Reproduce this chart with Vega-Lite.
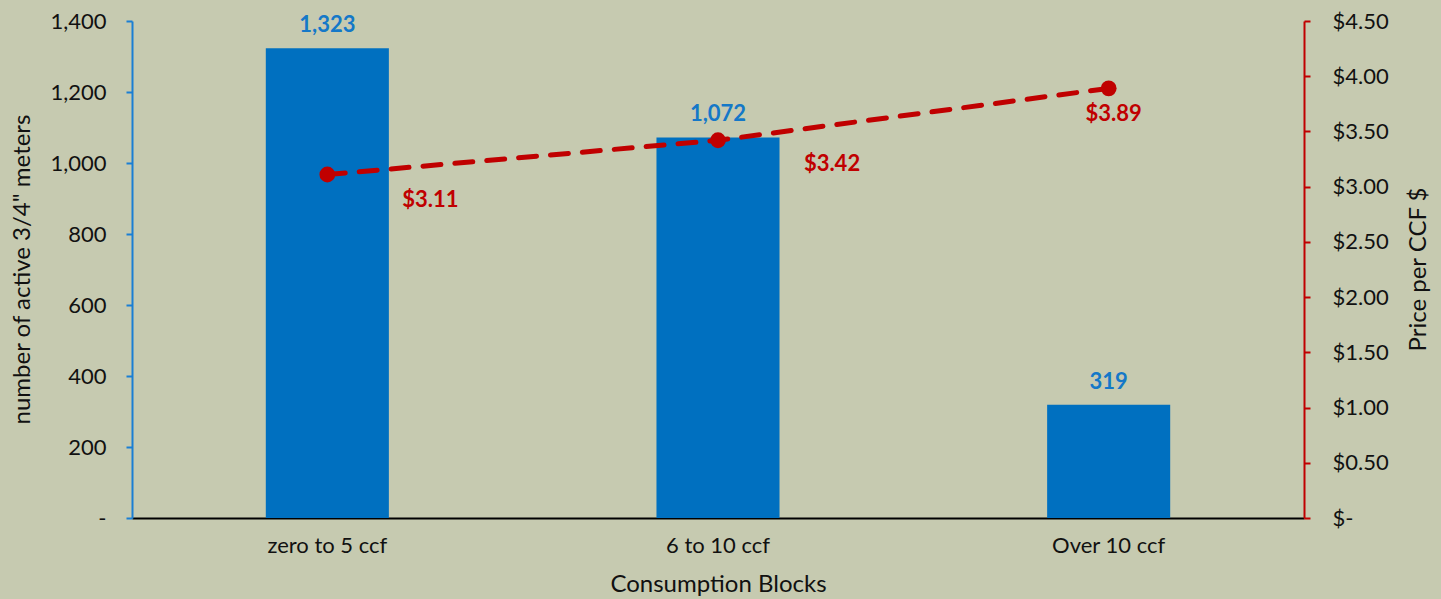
{
  "$schema": "https://vega.github.io/schema/vega-lite/v6.json",
  "width": 1172,
  "height": 497,
  "autosize": {"type": "none"},
  "padding": {"left": 132, "top": 21, "right": 137, "bottom": 81},
  "background": "#C6CAB0",
  "config": {
    "view": {"stroke": null},
    "font": "Lato",
    "axis": {"labelFont": "Lato", "titleFont": "Lato", "labelColor": "#111111", "titleColor": "#111111", "grid": false, "labelFontSize": 22, "titleFontSize": 24, "titleFontWeight": "normal"}
  },
  "data": {
    "values": [
      {"block": "zero to 5 ccf", "meters": 1323, "price": 3.11},
      {"block": "6 to 10 ccf", "meters": 1072, "price": 3.42},
      {"block": "Over 10 ccf", "meters": 319, "price": 3.89}
    ]
  },
  "encoding": {
    "x": {
      "field": "block",
      "type": "nominal",
      "sort": null,
      "scale": {"paddingInner": 0.685, "paddingOuter": 0.3425},
      "axis": {
        "title": "Consumption Blocks",
        "labelAngle": 0,
        "ticks": false,
        "labelPadding": 17,
        "domainColor": "#000000",
        "domainWidth": 2,
        "titlePadding": 16
      }
    }
  },
  "layer": [
    {
      "encoding": {
        "y": {
          "field": "meters",
          "type": "quantitative",
          "scale": {"domain": [0, 1400]},
          "axis": {
            "orient": "left",
            "title": "number of active 3/4\" meters",
            "values": [0, 200, 400, 600, 800, 1000, 1200, 1400],
            "labelExpr": "datum.value == 0 ? '-' : format(datum.value, ',')",
            "domainColor": "#1a7fd4",
            "domainWidth": 2,
            "tickColor": "#1a7fd4",
            "tickWidth": 2,
            "tickSize": 6,
            "labelPadding": 20,
            "titleX": -110,
            "titleY": 248,
            "titleAngle": -90,
            "titleBaseline": "middle",
            "titleAlign": "center"
          }
        }
      },
      "layer": [
        {"mark": {"type": "bar", "color": "#0070C0"}},
        {
          "mark": {"type": "text", "color": "#1478C8", "fontWeight": "bold", "fontSize": 22, "baseline": "bottom", "dy": -11},
          "encoding": {"text": {"field": "meters", "type": "quantitative", "format": ","}}
        }
      ]
    },
    {
      "encoding": {
        "y": {
          "field": "price",
          "type": "quantitative",
          "scale": {"domain": [0, 4.5]},
          "axis": {
            "orient": "right",
            "title": "Price per CCF $",
            "values": [0, 0.5, 1, 1.5, 2, 2.5, 3, 3.5, 4, 4.5],
            "labelExpr": "datum.value == 0 ? '$-' : '$' + format(datum.value, '.2f')",
            "domainColor": "#C00000",
            "domainWidth": 2,
            "tickColor": "#C00000",
            "tickWidth": 2,
            "tickSize": 6,
            "labelPadding": 22,
            "titleX": 114,
            "titleY": 248,
            "titleAngle": -90,
            "titleBaseline": "middle",
            "titleAlign": "center"
          }
        }
      },
      "layer": [
        {"mark": {"type": "line", "color": "#C00000", "strokeWidth": 5, "strokeDash": [18, 14], "strokeCap": "round"}},
        {"mark": {"type": "point", "filled": true, "color": "#C00000", "size": 250, "opacity": 1}},
        {
          "transform": [{"filter": "datum.block == 'zero to 5 ccf'"}],
          "mark": {"type": "text", "color": "#C00000", "fontWeight": "bold", "fontSize": 22, "dx": 103, "dy": 25},
          "encoding": {"text": {"field": "price", "type": "quantitative", "format": "$.2f"}}
        },
        {
          "transform": [{"filter": "datum.block == '6 to 10 ccf'"}],
          "mark": {"type": "text", "color": "#C00000", "fontWeight": "bold", "fontSize": 22, "dx": 114, "dy": 24},
          "encoding": {"text": {"field": "price", "type": "quantitative", "format": "$.2f"}}
        },
        {
          "transform": [{"filter": "datum.block == 'Over 10 ccf'"}],
          "mark": {"type": "text", "color": "#C00000", "fontWeight": "bold", "fontSize": 22, "dx": 5, "dy": 26},
          "encoding": {"text": {"field": "price", "type": "quantitative", "format": "$.2f"}}
        }
      ]
    }
  ],
  "resolve": {"scale": {"y": "independent"}}
}
